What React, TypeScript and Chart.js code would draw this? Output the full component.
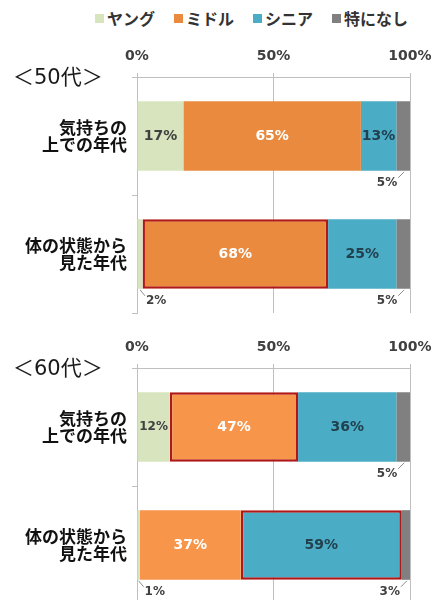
import React, { useEffect, useRef } from 'react';
import { Chart, registerables } from 'chart.js';

Chart.register(...registerables);

// ---- data ----
const seriesNames = ['ヤング', 'ミドル', 'シニア', '特になし'];
const rowLabels = [['気持ちの', '上での年代'], ['体の状態から', '見た年代']];
const xTickValues = [0, 50, 100];

const young50 = [17, 2];
const middle50 = [65, 68];
const senior50 = [13, 25];
const none50 = [5, 5];

const young60 = [12, 1];
const middle60 = [47, 37];
const senior60 = [36, 59];
const none60 = [5, 3];

// red-outlined segments, per series, per row
const highlight50 = [[false, false], [false, true], [false, false], [false, false]];
const highlight60 = [[false, false], [true, false], [false, true], [false, false]];

// ---- styles ----
const colors50 = ['#D7E4BD', '#E98A3F', '#4BACC6', '#808080'];
const colors60 = ['#D7E4BD', '#F7954A', '#4BACC6', '#808080'];
const legendColors = ['#D7E4BD', '#E98A3F', '#4BACC6', '#808080'];
const labelColors = ['#404040', '#FFFFFF', '#22414E', '#404040'];
const NUM_FONT = '"DejaVu Sans", "Noto Sans CJK JP", sans-serif';
const JP_FONT = '"Noto Sans CJK JP", "DejaVu Sans", sans-serif';

const segLabels = {
  id: 'segLabels',
  afterDatasetsDraw(chart: any) {
    const ctx = chart.ctx;
    chart.data.datasets.forEach((ds: any, di: number) => {
      const meta = chart.getDatasetMeta(di);
      meta.data.forEach((el: any, i: number) => {
        const v = ds.data[i];
        const p = el.getProps(['x', 'y', 'base', 'height'], true);
        const left = Math.min(p.x, p.base);
        const right = Math.max(p.x, p.base);
        const w = right - left;
        const cx = (left + right) / 2;
        const text = v + '%';
        ctx.save();
        ctx.textBaseline = 'middle';
        if (v >= 10) {
          ctx.font = `bold 14px ${NUM_FONT}`;
          if (ctx.measureText(text).width > w - 1) ctx.font = `bold 12px ${NUM_FONT}`;
          ctx.fillStyle = labelColors[di];
          ctx.textAlign = 'center';
          ctx.fillText(text, cx, p.y);
        } else {
          const bottom = p.y + p.height / 2;
          ctx.strokeStyle = '#8C8C8C';
          ctx.lineWidth = 1;
          ctx.font = `bold 12px ${NUM_FONT}`;
          ctx.fillStyle = '#404040';
          ctx.beginPath();
          if (di === 0) {
            ctx.moveTo(cx, bottom + 1);
            ctx.lineTo(cx + 5, bottom + 7);
            ctx.stroke();
            ctx.textAlign = 'left';
            ctx.fillText(text, cx + 6, bottom + 12);
          } else {
            ctx.moveTo(cx + 1, bottom + 1);
            ctx.lineTo(cx - 5, bottom + 7);
            ctx.stroke();
            ctx.textAlign = 'right';
            ctx.fillText(text, cx - 6, bottom + 12);
          }
        }
        ctx.restore();
      });
    });
  },
};

type PanelProps = {
  title: string;
  top: number;
  series: number[][];
  highlight: boolean[][];
  colors: string[];
};

function Panel({ title, top, series, highlight, colors }: PanelProps) {
  const ref = useRef<HTMLCanvasElement | null>(null);
  useEffect(() => {
    if (!ref.current) return;
    const chart = new Chart(ref.current, {
      type: 'bar',
      data: {
        labels: rowLabels,
        datasets: series.map((vals, si) => ({
          label: seriesNames[si],
          data: vals,
          backgroundColor: colors[si],
          borderColor: '#B01818',
          borderWidth: highlight[si].map((h) => (h ? 2.5 : 0)),
          borderSkipped: false,
          barPercentage: 0.59,
          categoryPercentage: 1,
        })),
      },
      options: {
        indexAxis: 'y',
        animation: false,
        responsive: true,
        maintainAspectRatio: false,
        layout: { padding: { top: 0, right: 30, bottom: 7, left: 0 } },
        plugins: {
          legend: { display: false },
          tooltip: { enabled: false },
        },
        scales: {
          x: {
            type: 'linear',
            position: 'top',
            stacked: true,
            min: 0,
            max: 100,
            afterBuildTicks: (s: any) => {
              s.ticks = xTickValues.map((v) => ({ value: v }));
            },
            ticks: {
              callback: (v: any) => v + '%',
              padding: 8,
              color: '#404040',
              font: { family: NUM_FONT, size: 14, weight: 'bold' },
            },
            grid: { color: '#BFBFBF', tickLength: 4, drawTicks: true, lineWidth: 1 },
            border: { display: true, color: '#BFBFBF' },
            afterFit: (s: any) => {
              s.height = 77;
              s.paddingLeft = 0;
              s.paddingRight = 0;
            },
          },
          y: {
            stacked: true,
            grid: { drawOnChartArea: false, drawTicks: true, tickLength: 5, color: '#BFBFBF', offset: true },
            border: { display: true, color: '#BFBFBF' },
            ticks: {
              padding: 5,
              color: '#111111',
              font: { family: JP_FONT, size: 17, weight: 'bold', lineHeight: 1.0 },
            },
            afterFit: (s: any) => {
              s.width = 137;
              s.paddingTop = 0;
              s.paddingBottom = 0;
            },
          },
        },
      },
      plugins: [segLabels],
    } as any);
    return () => chart.destroy();
  }, []);

  return (
    <>
      <div style={{ position: 'absolute', left: 0, top, width: 440, height: 320 }}>
        <canvas ref={ref} />
      </div>
      <div
        style={{
          position: 'absolute',
          left: 13,
          top: top + 77 - 16,
          height: 32,
          lineHeight: '32px',
          fontFamily: NUM_FONT,
          fontSize: 21,
          color: '#1a1a1a',
          whiteSpace: 'nowrap',
        }}
      >
        {title}
      </div>
    </>
  );
}

function Legend() {
  return (
    <div
      style={{
        position: 'absolute',
        left: 95,
        top: 7,
        height: 22,
        display: 'flex',
        alignItems: 'center',
        gap: 19,
        fontFamily: JP_FONT,
        fontWeight: 'bold',
        fontSize: 16,
        color: '#333333',
        whiteSpace: 'nowrap',
      }}
    >
      {seriesNames.map((n, i) => (
        <div key={n} style={{ display: 'flex', alignItems: 'center' }}>
          <span style={{ display: 'inline-block', width: 9, height: 9, background: legendColors[i], marginRight: 3 }} />
          <span>{n}</span>
        </div>
      ))}
    </div>
  );
}

export default function App() {
  return (
    <div style={{ position: 'fixed', left: 0, top: 0, width: 440, height: 600, overflow: 'hidden', background: '#fff' }}>
      <Legend />
      <Panel
        title="＜50代＞"
        top={0}
        series={[young50, middle50, senior50, none50]}
        highlight={highlight50}
        colors={colors50}
      />
      <Panel
        title="＜60代＞"
        top={291}
        series={[young60, middle60, senior60, none60]}
        highlight={highlight60}
        colors={colors60}
      />
    </div>
  );
}
